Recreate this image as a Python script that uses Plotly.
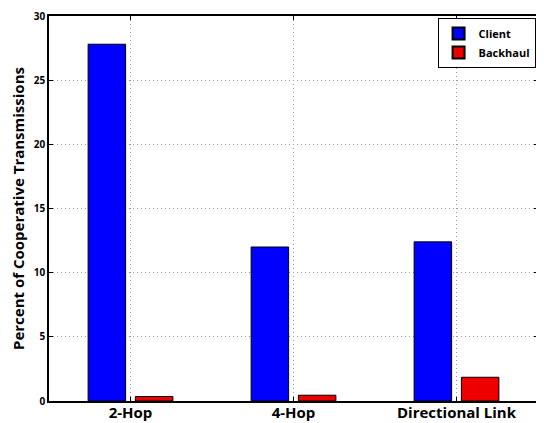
import plotly.graph_objects as go

categories = ["2-Hop", "4-Hop", "Directional Link"]
x_pos = [1, 2, 3]
client = [27.8, 12.0, 12.4]
backhaul = [0.35, 0.45, 1.85]
y_ticks = [0, 5, 10, 15, 20, 25, 30]

FONT = "Open Sans"

fig = go.Figure()
fig.add_trace(go.Bar(x=x_pos, y=client, name="Client", width=0.23, offset=-0.26,
                     marker=dict(color="#0000FF", line=dict(color="black", width=1))))
fig.add_trace(go.Bar(x=x_pos, y=backhaul, name="Backhaul", width=0.23, offset=0.03,
                     marker=dict(color="#EE0000", line=dict(color="black", width=1))))

# page body has an 8px margin, so the figure is sized/offset to compensate
fig.update_layout(
    width=536, height=415,
    margin=dict(l=41, r=6, t=8, b=22),
    plot_bgcolor="white", paper_bgcolor="white",
    font=dict(family=FONT, color="black"),
    showlegend=True,
    legend=dict(x=0.995, y=0.995, xanchor="right", yanchor="top",
                bordercolor="black", borderwidth=1, bgcolor="white",
                font=dict(family=FONT, size=11, weight=700),
                itemwidth=30, tracegroupgap=0, itemsizing="constant"),
    xaxis=dict(range=[0.5, 3.5], tickvals=x_pos, ticktext=categories,
               tickfont=dict(family=FONT, size=15, weight=700),
               ticklabeloverflow="allow", ticklabelstandoff=-3,
               showline=True, linecolor="black", linewidth=1.5, mirror="ticks",
               ticks="inside", ticklen=4, tickcolor="black",
               showgrid=True, gridcolor="#999999", griddash="1px,3px", gridwidth=1,
               zeroline=False, automargin=False),
    yaxis=dict(range=[0, 30], tickvals=y_ticks,
               tickfont=dict(family=FONT, size=10, weight=700),
               ticklabeloverflow="allow",
               title=dict(text="Percent of Cooperative Transmissions",
                          font=dict(family=FONT, size=15, weight=700), standoff=10),
               showline=True, linecolor="black", linewidth=1.5, mirror="ticks",
               ticks="inside", ticklen=4, tickcolor="black",
               showgrid=True, gridcolor="#999999", griddash="1px,3px", gridwidth=1,
               zeroline=False, automargin=False),
)

fig.write_html("out.html")
